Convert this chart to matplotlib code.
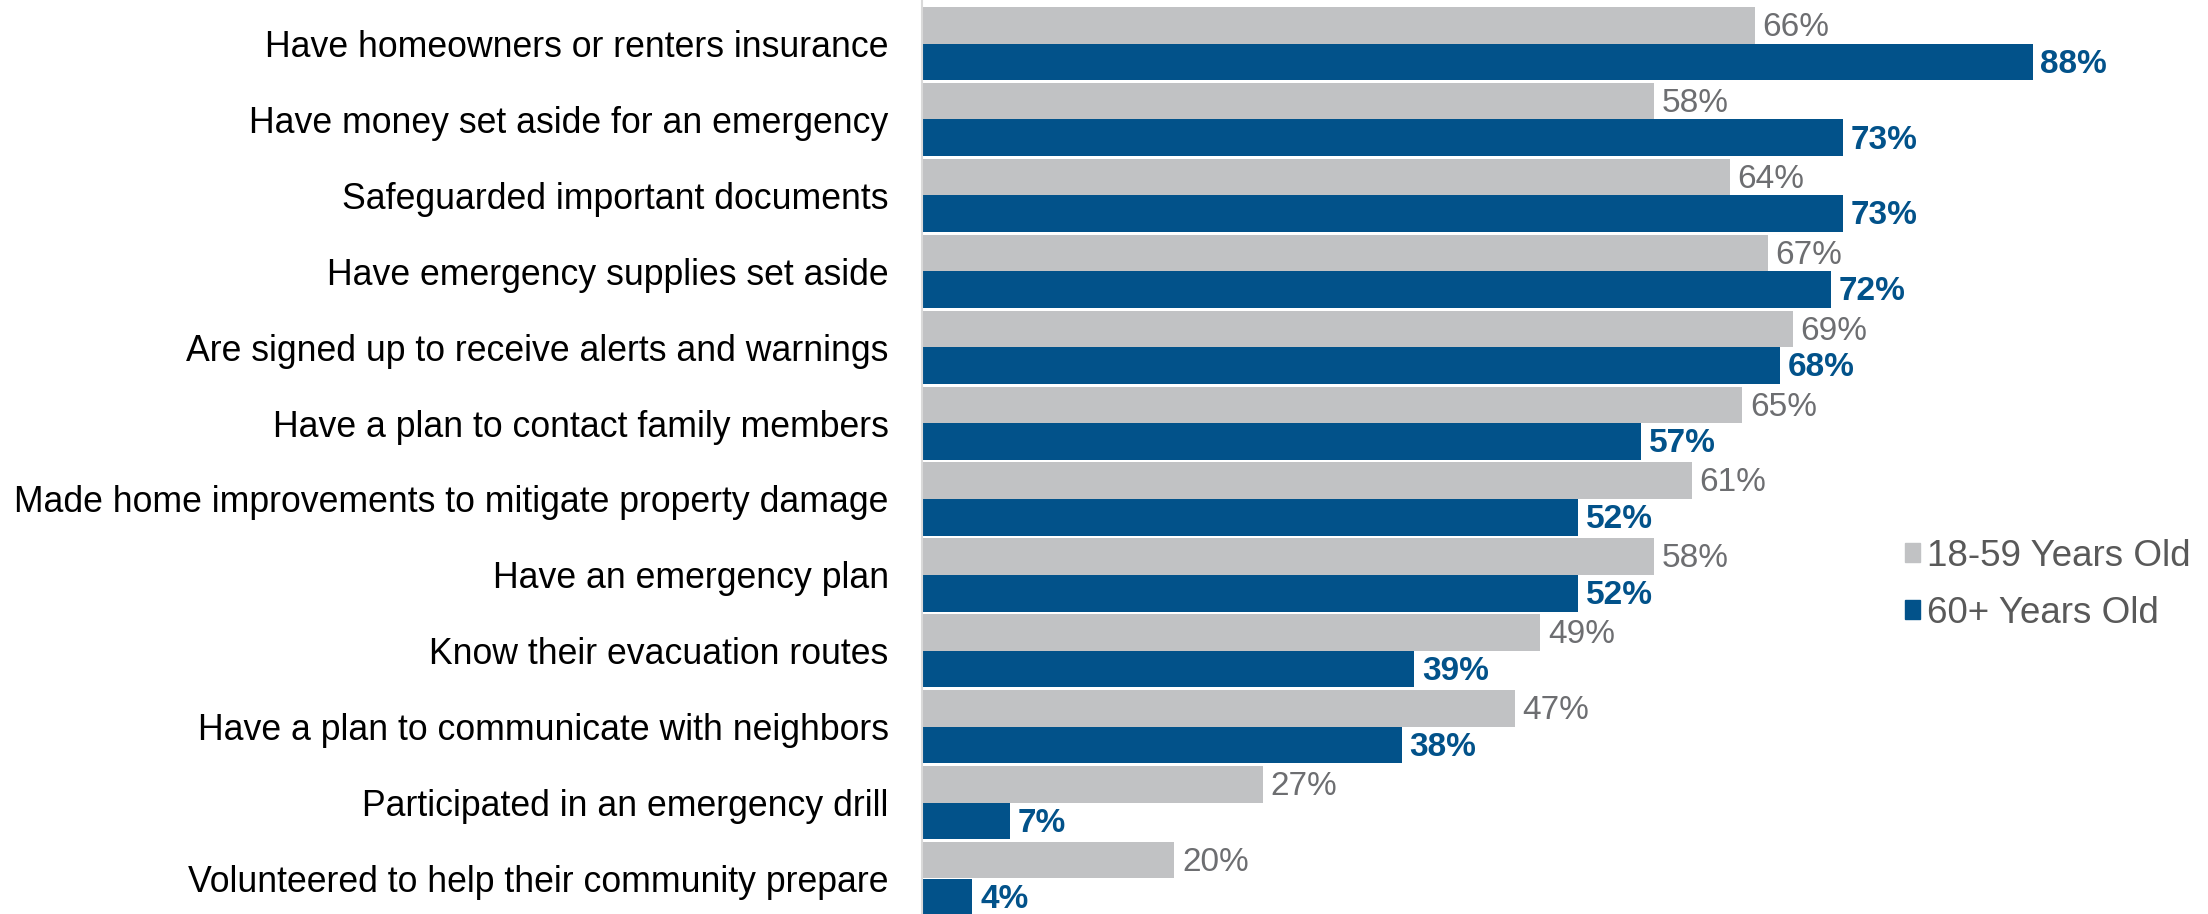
import matplotlib.pyplot as plt
import numpy as np
from matplotlib.patches import Patch

categories = [
    "Have homeowners or renters insurance",
    "Have money set aside for an emergency",
    "Safeguarded important documents",
    "Have emergency supplies set aside",
    "Are signed up to receive alerts and warnings",
    "Have a plan to contact family members",
    "Made home improvements to mitigate property damage",
    "Have an emergency plan",
    "Know their evacuation routes",
    "Have a plan to communicate with neighbors",
    "Participated in an emergency drill",
    "Volunteered to help their community prepare",
]
age_18_59 = [66, 58, 64, 67, 69, 65, 61, 58, 49, 47, 27, 20]
age_60_plus = [88, 73, 73, 72, 68, 57, 52, 52, 39, 38, 7, 4]
series_names = ["18-59 Years Old", "60+ Years Old"]

GRAY = "#c1c2c4"
BLUE = "#02528a"
GRAY_TXT = "#6d6e71"

plt.rcParams["font.family"] = ["Liberation Sans", "DejaVu Sans"]

W, H = 2208, 914
fig = plt.figure(figsize=(W / 100, H / 100), dpi=100)
x0 = 922
ax = fig.add_axes([x0 / W, 0, (W - x0) / W, 1])

pitch = 75.9
bar_h = 36.6 / pitch
y = np.arange(len(categories))

ax.barh(y - bar_h / 2, age_18_59, height=bar_h, color=GRAY)
ax.barh(y + bar_h / 2, age_60_plus, height=bar_h, color=BLUE)

for i, (a, b) in enumerate(zip(age_18_59, age_60_plus)):
    ax.text(a + 0.6, i - bar_h / 2 + 0.03, f"{a}%", va="center", ha="left",
            fontsize=24, color=GRAY_TXT)
    ax.text(b + 0.6, i + bar_h / 2 + 0.03, f"{b}%", va="center", ha="left",
            fontsize=24, color=BLUE, fontweight="bold")

ax.set_xlim(0, (W - x0) / 12.62)
top = -43.6 / pitch
ax.set_ylim(top + H / pitch, top)

ax.set_yticks(y)
ax.set_yticklabels(categories, fontsize=25.7, color="black")
ax.tick_params(axis="y", length=0, pad=24)
ax.set_xticks([])
for side in ["top", "right", "bottom"]:
    ax.spines[side].set_visible(False)
ax.spines["left"].set_color("#d9d9d9")
ax.spines["left"].set_linewidth(1.5)

handles = [Patch(color=GRAY), Patch(color=BLUE)]
leg = fig.legend(handles, series_names, loc="center left",
                 bbox_to_anchor=(1905 / W, 1 - 585 / H), frameon=False,
                 fontsize=26.5, handlelength=0.42, handleheight=0.42,
                 handletextpad=0.18, labelspacing=0.6, borderpad=0,
                 borderaxespad=0)
for t in leg.get_texts():
    t.set_color("#595959")

fig.savefig("out.png", dpi=100)
